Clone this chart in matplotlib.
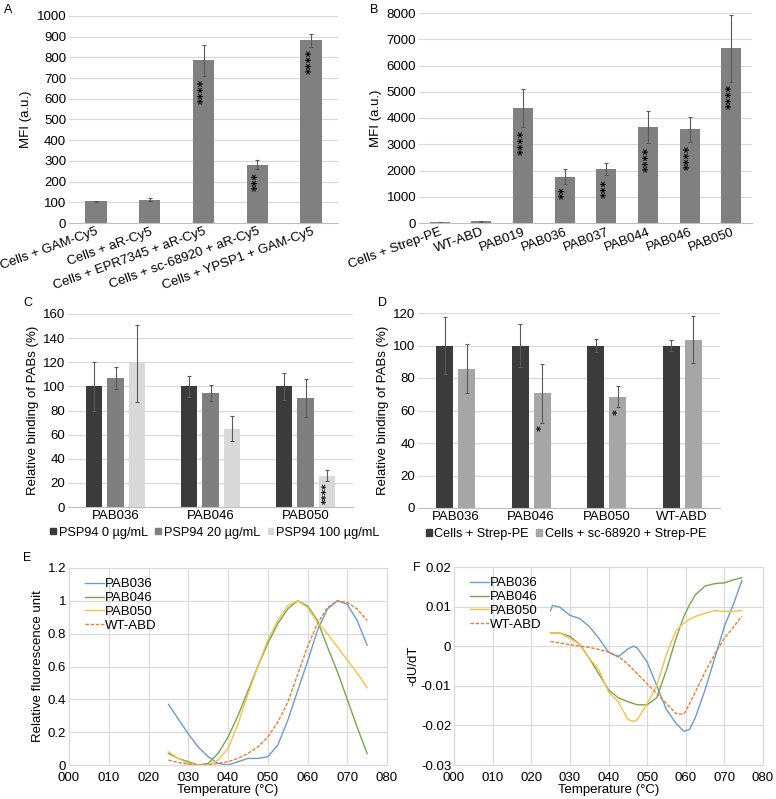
import numpy as np
import matplotlib
matplotlib.use("Agg")
import matplotlib.pyplot as plt
from matplotlib.patches import Patch
from matplotlib.ticker import FuncFormatter

plt.rcParams['font.family'] = ['Liberation Sans', 'DejaVu Sans']
plt.rcParams['font.size'] = 9.5
plt.rcParams['axes.unicode_minus'] = False

# ---- panel A ----
a_labels = ["Cells + GAM-Cy5", "Cells + aR-Cy5", "Cells + EPR7345 + aR-Cy5",
            "Cells + sc-68920 + aR-Cy5", "Cells + YPSP1 + GAM-Cy5"]
a_vals = [105, 113, 787, 282, 882]
a_err = [3, 8, 75, 20, 32]
a_stars = ["", "", "****", "***", "****"]
a_star_y = [0, 0, 637, 202, 782]

# ---- panel B ----
b_labels = ["Cells + Strep-PE", "WT-ABD", "PAB019", "PAB036", "PAB037",
            "PAB044", "PAB046", "PAB050"]
b_vals = [20, 60, 4370, 1770, 2040, 3650, 3570, 6650]
b_err = [10, 20, 720, 270, 230, 620, 480, 1280]
b_stars = ["", "", "****", "**", "***", "****", "****", "****"]
b_star_y = [0, 0, 3065, 1170, 1310, 2400, 2490, 4815]

# ---- panel C ----
c_groups = ["PAB036", "PAB046", "PAB050"]
c_series = ["PSP94 0 µg/mL", "PSP94 20 µg/mL", "PSP94 100 µg/mL"]
c_vals = [[100, 100, 100], [107, 94.5, 90.5], [119, 65, 26]]
c_err = [[20.5, 8.5, 11], [9, 7, 16], [32, 10.5, 4.7]]
c_stars = [["", "", ""], ["", "", ""], ["", "", "****"]]
c_star_y = [[0, 0, 0], [0, 0, 0], [0, 0, 11]]

# ---- panel D ----
d_groups = ["PAB036", "PAB046", "PAB050", "WT-ABD"]
d_series = ["Cells + Strep-PE", "Cells + sc-68920 + Strep-PE"]
d_vals = [[100, 100, 100, 100], [85.7, 70.5, 68.5, 103.6]]
d_err = [[17.5, 13.2, 4, 3.3], [15.2, 18.1, 6.5, 14.4]]
d_stars = [["", "", "", ""], ["", "*", "*", ""]]
d_star_y = [[0, 0, 0, 0], [0, 49, 59, 0]]

# ---- panel E (melting curves) ----
e_temp = [25, 27.5, 30, 32.5, 35, 37.5, 40, 42.5, 45, 47.5, 50, 52.5, 55,
          57.5, 60, 62.5, 65, 67.5, 70, 72.5, 75]
e_pab036 = [0.37, 0.28, 0.19, 0.11, 0.05, 0.01, 0.0, 0.02, 0.04, 0.04, 0.05,
            0.12, 0.27, 0.45, 0.63, 0.82, 0.95, 1.0, 0.98, 0.88, 0.73]
e_pab046 = [0.07, 0.04, 0.02, 0.0, 0.01, 0.07, 0.17, 0.3, 0.45, 0.6, 0.74,
            0.86, 0.95, 1.0, 0.97, 0.88, 0.72, 0.57, 0.4, 0.23, 0.07]
e_pab050 = [0.08, 0.04, 0.01, 0.0, 0.0, 0.03, 0.1, 0.25, 0.43, 0.6, 0.76,
            0.88, 0.97, 1.0, 0.96, 0.87, 0.8, 0.72, 0.64, 0.56, 0.47]
e_wt = [0.03, 0.015, 0.005, 0.0, 0.0, 0.01, 0.02, 0.04, 0.07, 0.11, 0.17,
        0.26, 0.38, 0.55, 0.72, 0.86, 0.96, 1.0, 0.99, 0.95, 0.88]

# ---- panel F (derivative) ----
f_temp = [25, 25.5, 27.5, 30, 32.5, 35, 37.5, 40, 42.5, 45, 46.5, 47.5, 50,
          52.5, 55, 57.5, 59.5, 61, 62.5, 65, 67.5, 70, 72.5, 74.5]
f_pab036 = [0.009, 0.0103, 0.0098, 0.0078, 0.007, 0.005, 0.002, -0.0015,
            -0.0027, -0.0007, 0.0, -0.0005, -0.004, -0.01, -0.016, -0.0195,
            -0.0215, -0.021, -0.018, -0.011, -0.003, 0.005, 0.011, 0.0165]
f_pab046 = [0.0033, 0.0033, 0.0033, 0.0025, 0.0005, -0.003, -0.007, -0.011,
            -0.013, -0.014, -0.0145, -0.0148, -0.0148, -0.013, -0.006, 0.002,
            0.0075, 0.0105, 0.013, 0.0152, 0.0158, 0.016, 0.0168, 0.0173]
f_pab050 = [0.0033, 0.0033, 0.0033, 0.002, 0.0005, -0.003, -0.006, -0.0115,
            -0.014, -0.0185, -0.019, -0.0185, -0.0145, -0.01, -0.002, 0.004,
            0.0058, 0.0068, 0.0075, 0.0083, 0.009, 0.0088, 0.0088, 0.009]
f_wt = [0.0012, 0.0011, 0.0008, 0.0004, 0.0, -0.0003, -0.0008, -0.0015,
        -0.0025, -0.0045, -0.006, -0.007, -0.0095, -0.012, -0.0145, -0.017,
        -0.0172, -0.0145, -0.0115, -0.0065, -0.002, 0.002, 0.005, 0.0076]
line_names = ["PAB036", "PAB046", "PAB050", "WT-ABD"]

W, H = 776, 799
fig = plt.figure(figsize=(W / 100, H / 100), dpi=100)

GRID = '#d9d9d9'
ERR = '#5a5a5a'


def px_axes(x0, y0, x1, y1):
    return fig.add_axes([x0 / W, 1 - y1 / H, (x1 - x0) / W, (y1 - y0) / H])


def bar_style(ax):
    ax.yaxis.grid(True, color=GRID, lw=0.8)
    ax.set_axisbelow(True)
    for s in ['top', 'right', 'left']:
        ax.spines[s].set_visible(False)
    ax.spines['bottom'].set_color('#bfbfbf')
    ax.tick_params(length=0, pad=2)


def stars(ax, x, y, s, size=8.5):
    if s:
        ax.text(x, y, s, rotation=90, ha='center', va='center',
                fontsize=size, fontweight='bold', color='black',
                family='DejaVu Sans')


# A
ax = px_axes(69, 16, 338, 223)
x = np.arange(len(a_vals))
ax.bar(x, a_vals, 0.4, color='#808080', yerr=a_err,
       error_kw=dict(ecolor=ERR, elinewidth=0.8, capsize=1.5, capthick=0.8))
for i, s in enumerate(a_stars):
    stars(ax, x[i], a_star_y[i], s)
ax.set_xlim(-0.5, 4.5)
ax.set_ylim(0, 1000)
ax.set_yticks(range(0, 1001, 100))
ax.set_xticks(x)
ax.set_xticklabels(a_labels, rotation=20, ha='right', rotation_mode='anchor')
ax.set_ylabel("MFI (a.u.)", labelpad=3)
bar_style(ax)

# B
ax = px_axes(419, 13, 752, 223)
x = np.arange(len(b_vals))
ax.bar(x, b_vals, 0.48, color='#808080', yerr=b_err,
       error_kw=dict(ecolor=ERR, elinewidth=0.8, capsize=1.5, capthick=0.8))
for i, s in enumerate(b_stars):
    stars(ax, x[i], b_star_y[i], s)
ax.set_xlim(-0.5, 7.5)
ax.set_ylim(0, 8000)
ax.set_yticks(range(0, 8001, 1000))
ax.set_xticks(x)
ax.set_xticklabels(b_labels, rotation=20, ha='right', rotation_mode='anchor')
ax.set_ylabel("MFI (a.u.)", labelpad=3)
bar_style(ax)

# C
ax = px_axes(68, 314, 353, 507)
x = np.arange(len(c_groups))
c_colors = ['#3b3b3b', '#7f7f7f', '#d9d9d9']
for k in range(3):
    xs = x + (k - 1) * 0.225
    ax.bar(xs, c_vals[k], 0.175, color=c_colors[k], yerr=c_err[k],
           error_kw=dict(ecolor=ERR, elinewidth=0.8, capsize=1.5, capthick=0.8))
    for i in range(3):
        stars(ax, xs[i], c_star_y[k][i], c_stars[k][i], size=7.5)
ax.set_xlim(-0.5, 2.5)
ax.set_ylim(0, 160)
ax.set_yticks(range(0, 161, 20))
ax.set_xticks(x)
ax.set_xticklabels(c_groups)
ax.set_ylabel("Relative binding of PABs (%)", labelpad=3)
bar_style(ax)
ax.legend([Patch(color=c) for c in c_colors], c_series, loc='upper center',
          bbox_to_anchor=(0.515, -0.075), ncol=3, frameon=False,
          handlelength=0.45, handleheight=0.45, handletextpad=0.2,
          columnspacing=0.6, fontsize=9.2, borderaxespad=0)

# D
ax = px_axes(418, 313, 720, 508)
x = np.arange(len(d_groups))
d_colors = ['#3b3b3b', '#a6a6a6']
for k in range(2):
    xs = x + (k - 0.5) * 0.29
    ax.bar(xs, d_vals[k], 0.22, color=d_colors[k], yerr=d_err[k],
           error_kw=dict(ecolor=ERR, elinewidth=0.8, capsize=1.5, capthick=0.8))
    for i in range(4):
        stars(ax, xs[i], d_star_y[k][i], d_stars[k][i], size=8)
ax.set_xlim(-0.5, 3.5)
ax.set_ylim(0, 120)
ax.set_yticks(range(0, 121, 20))
ax.set_xticks(x)
ax.set_xticklabels(d_groups)
ax.set_ylabel("Relative binding of PABs (%)", labelpad=3)
bar_style(ax)
ax.legend([Patch(color=c) for c in d_colors], d_series, loc='upper center',
          bbox_to_anchor=(0.49, -0.075), ncol=2, frameon=False,
          handlelength=0.45, handleheight=0.45, handletextpad=0.2,
          columnspacing=0.6, fontsize=9.2, borderaxespad=0)

line_colors = ['#6b9bd2', '#74a84a', '#f7c244', '#ed7d31']
line_styles = ['-', '-', '-', (0, (2.5, 1.2))]


def line_style(ax):
    ax.grid(True, color=GRID, lw=0.8)
    ax.set_axisbelow(True)
    for s in ax.spines.values():
        s.set_color(GRID)
    ax.tick_params(length=0, pad=2)
    ax.tick_params(axis='x', pad=5)
    ax.set_xlim(0, 80)
    ax.set_xticks(range(0, 81, 10))
    ax.xaxis.set_major_formatter(FuncFormatter(lambda v, p: '%03d' % v))
    ax.set_xlabel("Temperature (°C)", labelpad=0)
    ax.legend(loc='upper left', bbox_to_anchor=(0.035, 0.975), frameon=False,
              handlelength=1.4, handletextpad=0.1, labelspacing=0.12,
              fontsize=9.5, borderaxespad=0)


# E
ax = px_axes(69, 568, 387, 765)
for ys, c, ls, nm in zip([e_pab036, e_pab046, e_pab050, e_wt], line_colors,
                         line_styles, line_names):
    ax.plot(e_temp, ys, color=c, ls=ls, lw=1.0, label=nm)
ax.set_ylim(0, 1.2)
ax.set_yticks([0, 0.2, 0.4, 0.6, 0.8, 1.0, 1.2])
ax.yaxis.set_major_formatter(FuncFormatter(lambda v, p: '%g' % round(v, 2)))
ax.set_ylabel("Relative fluorescence unit", labelpad=3)
line_style(ax)

# F
ax = px_axes(454, 567, 763, 765)
for ys, c, ls, nm in zip([f_pab036, f_pab046, f_pab050, f_wt], line_colors,
                         line_styles, line_names):
    ax.plot(f_temp, ys, color=c, ls=ls, lw=1.0, label=nm)
ax.set_ylim(-0.03, 0.02)
ax.set_yticks([-0.03, -0.02, -0.01, 0, 0.01, 0.02])
ax.yaxis.set_major_formatter(FuncFormatter(lambda v, p: '%g' % round(v, 3)))
ax.set_ylabel("-dU/dT", labelpad=1)
line_style(ax)

# panel letters
for lt, px, py in [("A", 4, 4), ("B", 370, 4), ("C", 23, 297), ("D", 378, 297),
                   ("E", 23, 552), ("F", 413, 562)]:
    fig.text(px / W, 1 - py / H, lt, ha='left', va='top', fontsize=9)

fig.savefig("out.png", dpi=100, facecolor='white')
